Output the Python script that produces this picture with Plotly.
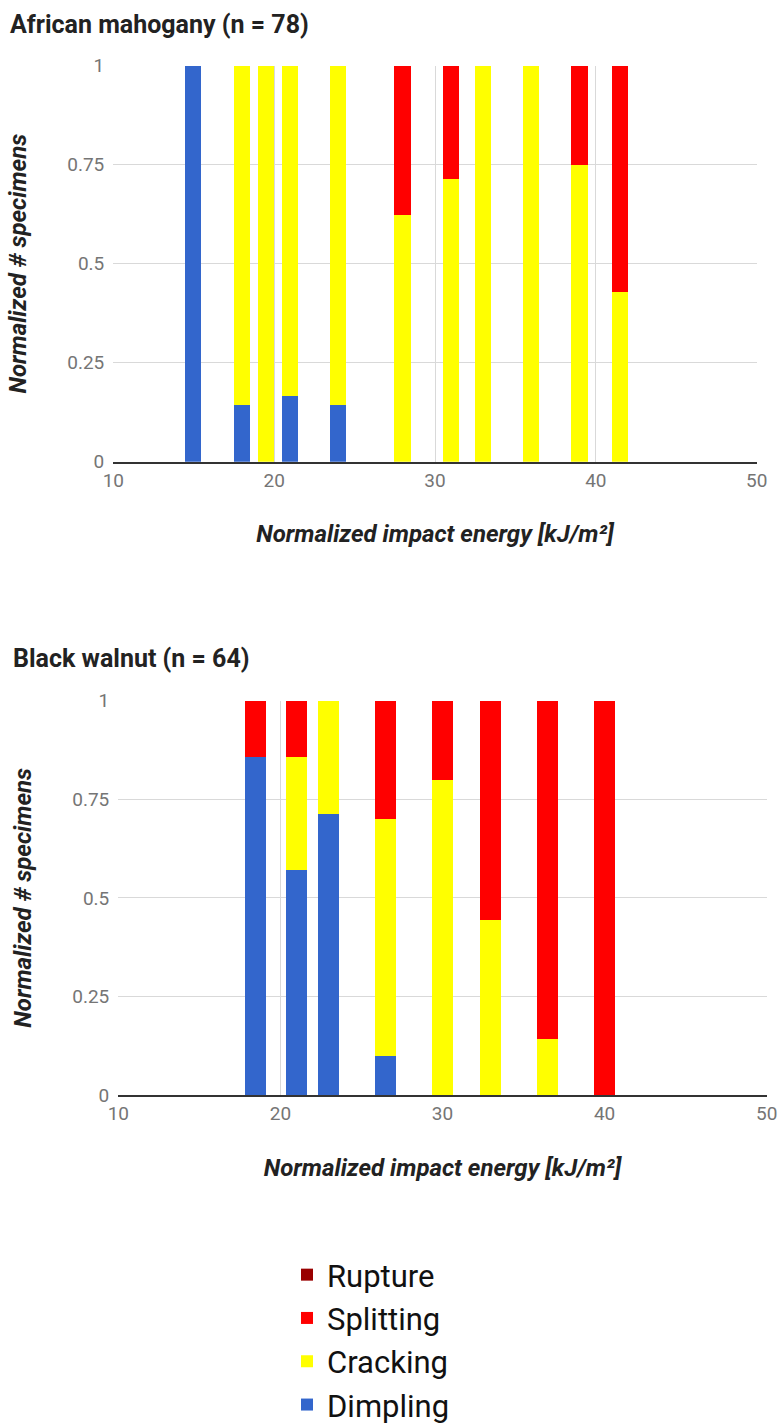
import plotly.graph_objects as go

W, H = 778, 1426

# ---------------- data ----------------
categories = ["Dimpling", "Cracking", "Splitting", "Rupture"]
colors = {"Dimpling": "#3366cc", "Cracking": "#ffff00", "Splitting": "#ff0000", "Rupture": "#990000"}

# African mahogany (n = 78)
mah_energy = [15, 18, 19.5, 21, 24, 28, 31, 33, 36, 39, 41.5]
mah_dimpling = [1.0, 0.143, 0.0, 0.167, 0.143, 0.0, 0.0, 0.0, 0.0, 0.0, 0.0]
mah_cracking = [0.0, 0.857, 1.0, 0.833, 0.857, 0.625, 0.714, 1.0, 1.0, 0.75, 0.429]
mah_splitting = [0.0, 0.0, 0.0, 0.0, 0.0, 0.375, 0.286, 0.0, 0.0, 0.25, 0.571]
mah_rupture = [0.0] * 11

# Black walnut (n = 64)
wal_energy = [18.5, 21, 23, 26.5, 30, 33, 36.5, 40]
wal_dimpling = [0.857, 0.571, 0.714, 0.1, 0.0, 0.0, 0.0, 0.0]
wal_cracking = [0.0, 0.286, 0.286, 0.6, 0.8, 0.444, 0.143, 0.0]
wal_splitting = [0.143, 0.143, 0.0, 0.3, 0.2, 0.556, 0.857, 1.0]
wal_rupture = [0.0] * 8

x_ticks = [10, 20, 30, 40, 50]
y_ticks = [0, 0.25, 0.5, 0.75, 1]
y_ticktext = ["0", "0.25", "0.5", "0.75", "1"]

FONT = "Roboto"

fig = go.Figure()

mah = {"Dimpling": mah_dimpling, "Cracking": mah_cracking, "Splitting": mah_splitting, "Rupture": mah_rupture}
wal = {"Dimpling": wal_dimpling, "Cracking": wal_cracking, "Splitting": wal_splitting, "Rupture": wal_rupture}

for cat in categories:
    fig.add_trace(go.Bar(x=mah_energy, y=mah[cat], name=cat, width=1.0,
                         marker=dict(color=colors[cat], line=dict(width=0)),
                         xaxis="x", yaxis="y", legendgroup=cat, showlegend=True))
for cat in categories:
    fig.add_trace(go.Bar(x=wal_energy, y=wal[cat], name=cat, width=1.3,
                         marker=dict(color=colors[cat], line=dict(width=0)),
                         xaxis="x2", yaxis="y2", legendgroup=cat, showlegend=False))

grid = "#d9d9d9"
tickfont = dict(family=FONT, size=19, color="#757575")
titlefont = dict(family=FONT, size=24, color="#222222", weight="bold", style="italic")

def xax(domain, anchor):
    return dict(domain=domain, anchor=anchor, range=[10, 50], tickvals=x_ticks,
                showgrid=True, gridcolor=grid, gridwidth=1, zeroline=False,
                showline=True, linecolor="#333333", linewidth=2,
                ticks="", tickfont=tickfont, automargin=False,
                title=dict(text="Normalized impact energy [kJ/m²]", font=titlefont, standoff=35))

def yax(domain, anchor):
    return dict(domain=domain, anchor=anchor, range=[0, 1], tickvals=y_ticks, ticktext=y_ticktext,
                showgrid=True, gridcolor=grid, gridwidth=1, zeroline=False,
                showline=False, ticks="", tickfont=tickfont, ticklabelstandoff=8, automargin=False,
                title=dict(text="Normalized # specimens", font=titlefont, standoff=33))

fig.update_layout(
    width=W, height=H,
    margin=dict(l=0, r=0, t=0, b=0, autoexpand=False),
    paper_bgcolor="white", plot_bgcolor="white",
    barmode="stack", bargap=0,
    font=dict(family=FONT),
    xaxis=xax([113.3 / W, 756.7 / W], "y"),
    yaxis=yax([(H - 461.7) / H, (H - 65.7) / H], "x"),
    xaxis2=xax([118.3 / W, 766.7 / W], "y2"),
    yaxis2=yax([(H - 1095) / H, (H - 700.7) / H], "x2"),
    legend=dict(x=287 / W, xanchor="left", y=(H - 1248) / H, yanchor="top",
                font=dict(family=FONT, size=31, color="#111111"),
                bgcolor="rgba(0,0,0,0)", traceorder="reversed"),
    annotations=[
        dict(text="<b>African mahogany (n = 78)</b>", x=8 / W, y=(H - 24) / H, xref="paper", yref="paper",
             xanchor="left", yanchor="middle", showarrow=False,
             font=dict(family=FONT, size=25, color="#222222")),
        dict(text="<b>Black walnut (n = 64)</b>", x=11 / W, y=(H - 658) / H, xref="paper", yref="paper",
             xanchor="left", yanchor="middle", showarrow=False,
             font=dict(family=FONT, size=25, color="#222222")),
    ],
)

fig.write_html("out.html")
